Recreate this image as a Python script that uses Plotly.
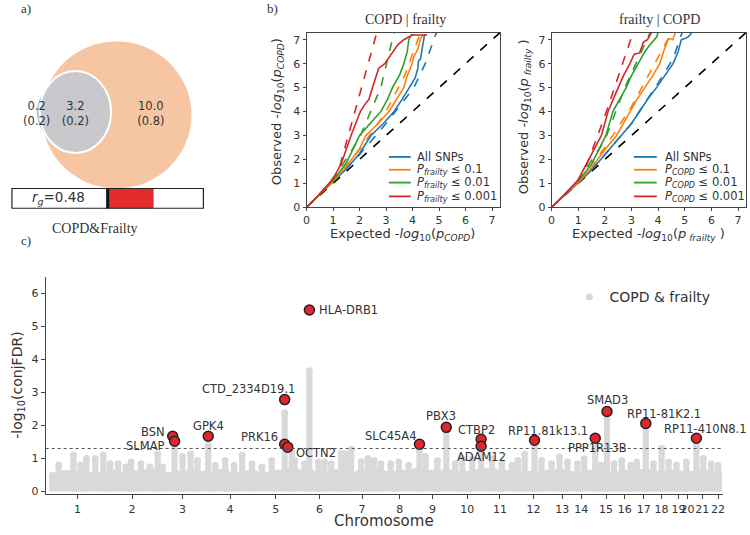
import plotly.graph_objects as go

W, H = 750, 535
FONT = "DejaVu Sans"
SERIF = "Liberation Serif"
TXT = "#333333"

# ---------------- Panel a data ----------------
venn_values = ["0.2", "3.2", "10.0"]
venn_props = ["(0.2)", "(0.2)", "(0.8)"]
rg_value = 0.48

# ---------------- Panel b data (QQ curves) ----------------
# COPD | frailty
L_all_x = [0, 0.5, 1.0, 1.5, 2.0, 2.43, 2.9, 3.3, 3.6, 3.86, 4.1, 4.2, 4.22, 4.3, 4.35, 4.4, 4.45, 4.5]
L_all_y = [0, 0.52, 1.05, 1.6, 2.25, 3.0, 3.5, 4.0, 4.5, 5.0, 5.4, 5.8, 6.1, 6.2, 6.6, 7.0, 7.2, 7.2]
L_o1_x = [0, 0.5, 1.0, 1.5, 2.0, 2.24, 2.7, 3.11, 3.4, 3.67, 3.8, 3.98, 4.05, 4.2, 4.3, 4.4]
L_o1_y = [0, 0.53, 1.08, 1.7, 2.45, 3.0, 3.5, 4.0, 4.5, 5.0, 5.5, 6.0, 6.3, 6.6, 7.05, 7.2]
L_o2_x = [0, 0.5, 1.0, 1.5, 2.0, 2.4, 2.8, 3.05, 3.24, 3.5, 3.67, 3.8, 3.86, 3.95, 4.05]
L_o2_y = [0, 0.55, 1.12, 1.85, 3.0, 3.5, 4.0, 4.5, 5.0, 5.5, 6.0, 6.5, 7.0, 7.2, 7.2]
L_o3_x = [0, 0.5, 1.0, 1.3, 1.68, 1.85, 2.03, 2.2, 2.35, 2.49, 2.6, 2.72, 2.95, 3.2, 3.45, 3.67, 3.98, 4.2, 4.55]
L_o3_y = [0, 0.55, 1.2, 1.8, 3.0, 3.5, 4.0, 4.3, 4.5, 5.0, 5.4, 5.8, 6.0, 6.4, 6.8, 7.0, 7.2, 7.2, 7.2]
L_fit_all_x = [0, 1, 2, 3, 4.05, 4.48, 4.9]
L_fit_all_y = [0, 1.05, 2.2, 3.5, 5.0, 6.0, 7.3]
L_fit_o1_x = [0, 1, 2, 3.0, 3.7, 4.3]
L_fit_o1_y = [0, 1.08, 2.4, 4.0, 5.5, 7.3]
L_fit_o2_x = [0, 1, 2, 2.8, 3.3]
L_fit_o2_y = [0, 1.15, 2.9, 5.0, 7.3]
L_fit_o3_x = [0, 0.6, 1.2, 1.83, 2.65]
L_fit_o3_y = [0, 0.65, 1.5, 4.0, 7.3]

# frailty | COPD
R_all_x = [0, 0.5, 1.0, 1.5, 2.0, 2.6, 3.0, 3.3, 3.6, 3.94, 4.25, 4.56, 4.75, 4.87, 5.0, 5.1, 5.2, 5.25, 5.3]
R_all_y = [0, 0.5, 1.02, 1.55, 2.2, 3.0, 3.5, 4.0, 4.5, 5.0, 5.5, 6.0, 6.5, 7.0, 7.05, 7.1, 7.2, 7.3, 7.3]
R_o1_x = [0, 0.5, 1.0, 1.5, 2.0, 2.44, 2.7, 2.94, 3.2, 3.5, 3.8, 4.06, 4.2, 4.37, 4.45, 4.55, 4.6, 4.65]
R_o1_y = [0, 0.52, 1.05, 1.65, 2.4, 3.0, 3.5, 4.0, 4.5, 5.0, 5.5, 6.0, 6.5, 7.0, 7.05, 7.0, 7.2, 7.3]
R_o2_x = [0, 0.5, 1.0, 1.5, 2.04, 2.3, 2.55, 2.8, 3.0, 3.25, 3.5, 3.7, 3.94, 4.0]
R_o2_y = [0, 0.55, 1.1, 1.8, 3.0, 4.0, 4.5, 5.0, 5.5, 6.0, 6.5, 6.8, 7.1, 7.3]
R_o3_x = [0, 0.5, 1.0, 1.3, 1.87, 2.12, 2.3, 2.5, 2.7, 2.94, 3.1, 3.3, 3.45, 3.6, 3.75]
R_o3_y = [0, 0.55, 1.15, 1.8, 3.0, 4.0, 4.5, 5.0, 5.5, 6.0, 6.4, 6.45, 6.9, 7.0, 7.3]
R_fit_all_x = [0, 1, 2, 3, 4, 4.56, 4.9]
R_fit_all_y = [0, 1.02, 2.2, 3.5, 5.2, 6.2, 7.3]
R_fit_o1_x = [0, 1, 2, 3, 4.5]
R_fit_o1_y = [0, 1.05, 2.5, 4.2, 7.3]
R_fit_o2_x = [0, 1, 2, 2.75, 3.7]
R_fit_o2_y = [0, 1.1, 2.8, 5.0, 7.3]
R_fit_o3_x = [0, 0.6, 1.2, 2.06, 3.06]
R_fit_o3_y = [0, 0.6, 1.4, 4.0, 7.3]

legend_left = ["All SNPs",
               "<i>P</i><sub><i>frailty</i></sub> ≤ 0.1",
               "<i>P</i><sub><i>frailty</i></sub> ≤ 0.01",
               "<i>P</i><sub><i>frailty</i></sub> ≤ 0.001"]
legend_right = ["All SNPs",
                "<i>P</i><sub><i>COPD</i></sub> ≤ 0.1",
                "<i>P</i><sub><i>COPD</i></sub> ≤ 0.01",
                "<i>P</i><sub><i>COPD</i></sub> ≤ 0.001"]
qq_colors = ["#1f77b4", "#ff7f0e", "#2ca02c", "#d62728"]

# ---------------- Panel c data (Manhattan) ----------------
chrom_labels = [str(i) for i in range(1, 23)]
chrom_centers = [135, 367, 582, 784, 978, 1164, 1345, 1505, 1644, 1792, 1931,
                 2074, 2196, 2277, 2382, 2462, 2542, 2618, 2690, 2728, 2791, 2858]
# dense background band (genome position, upper edge of the solid cloud)
band_x = [15, 60, 120, 180, 240, 300, 360, 420, 480, 540, 600, 660, 720, 780, 840, 900,
          960, 1020, 1080, 1140, 1200, 1260, 1320, 1380, 1440, 1500, 1560, 1620, 1680,
          1740, 1800, 1860, 1920, 1980, 2040, 2100, 2160, 2220, 2280, 2340, 2400, 2460,
          2520, 2580, 2640, 2700, 2760, 2820, 2875]
band_h = [0.58, 0.64, 0.66, 0.6, 0.66, 0.6, 0.64, 0.68, 0.6, 0.62,
          0.66, 0.62, 0.68, 0.6, 0.64, 0.6, 0.66, 0.7, 0.66, 0.62,
          0.68, 0.6, 0.64, 0.68, 0.62, 0.66, 0.7, 0.66, 0.66, 0.62,
          0.68, 0.7, 0.66, 0.62, 0.62, 0.66, 0.68, 0.62, 0.66, 0.68,
          0.62, 0.66, 0.68, 0.62, 0.66, 0.62, 0.66, 0.6, 0.6]
# columns of SNPs rising above the cloud (genome position, top -log10 conjFDR)
spike_x = [55, 118, 148, 173, 211, 245, 274, 308, 341, 363, 405, 443, 476, 497, 548, 582,
           616, 645, 691, 721, 763, 801, 835, 877, 919, 961, 1016, 1046, 1058, 1100, 1121,
           1159, 1185, 1214, 1256, 1277, 1299, 1341, 1370, 1396, 1425, 1467, 1501, 1543,
           1589, 1615, 1665, 1703, 1741, 1771, 1813, 1851, 1897, 1939, 1982, 2007, 2036,
           2078, 2108, 2150, 2184, 2218, 2260, 2289, 2336, 2361, 2386, 2416, 2449, 2487,
           2513, 2551, 2584, 2618, 2648, 2681, 2723, 2766, 2795, 2829, 2858]
spike_h = [0.8, 1.1, 0.8, 1.0, 1.0, 1.1, 0.84, 0.84, 0.74, 0.89, 0.84, 0.74, 1.13, 0.74, 1.5, 1.06,
           1.13, 0.94, 1.38, 0.79, 0.94, 0.79, 1.1, 0.84, 0.74, 0.94, 2.38, 1.25, 0.94, 0.84, 3.65,
           0.89, 0.89, 0.84, 1.16, 1.13, 1.28, 0.89, 1.0, 0.94, 0.84, 0.84, 0.89, 0.79,
           1.25, 1.06, 0.94, 1.85, 0.84, 0.99, 0.99, 1.3, 0.99, 0.84, 0.79, 0.94, 1.13,
           1.38, 0.94, 0.84, 1.04, 0.89, 0.84, 0.99, 1.5, 0.79, 2.2, 0.84, 0.94, 0.79,
           0.89, 1.95, 0.84, 1.3, 0.89, 0.79, 0.89, 1.4, 1.0, 0.84, 0.79]
hit_genes = ["HLA-DRB1", "CTD_2334D19.1", "BSN", "SLMAP", "GPK4", "PRK16", "OCTN2",
             "SLC45A4", "PBX3", "CTBP2", "ADAM12", "RP11.81k13.1", "PPP1R13B", "SMAD3",
             "RP11-81K2.1", "RP11-410N8.1"]
hit_x = [1121, 1016, 540, 548, 691, 1016, 1029, 1589, 1703, 1851, 1851, 2078, 2336, 2386, 2551, 2766]
hit_y = [5.49, 2.78, 1.67, 1.52, 1.67, 1.43, 1.34, 1.43, 1.94, 1.58, 1.37, 1.55, 1.61, 2.42, 2.06, 1.61]
fdr_threshold = 1.3

# label placement (style): xanchor, xshift, yshift
label_style = {
    "HLA-DRB1": ("left", 8, 0), "CTD_2334D19.1": ("center", -36, 11),
    "BSN": ("right", -6, 4), "SLMAP": ("right", -9, -5), "GPK4": ("center", 0, 10),
    "PRK16": ("right", -5, 7), "OCTN2": ("left", 6, -6), "SLC45A4": ("right", 0, 8),
    "PBX3": ("center", -5, 11), "CTBP2": ("center", -5, 9), "ADAM12": ("center", 0, -11),
    "RP11.81k13.1": ("center", 13, 9), "PPP1R13B": ("center", 2, -10),
    "SMAD3": ("center", 1, 11), "RP11-81K2.1": ("center", 18, 9),
    "RP11-410N8.1": ("center", 9, 9),
}

GRAY = "#d9d9d9"


def PX(x):
    return x / W


def PY(y):
    return 1 - y / H


fig = go.Figure()


def add_qq(xa, ya, curves, fits):
    for (fx, fy), c in zip(fits, qq_colors):
        fig.add_trace(go.Scatter(x=fx, y=fy, mode="lines", xaxis=xa, yaxis=ya,
                                 line=dict(color=c, width=1.6, dash="dash"),
                                 showlegend=False, hoverinfo="skip"))
    fig.add_trace(go.Scatter(x=[0, 7.3], y=[0, 7.3], mode="lines", xaxis=xa, yaxis=ya,
                             line=dict(color="black", width=1.6, dash="dash"),
                             showlegend=False, hoverinfo="skip"))
    for (cx, cy), c in zip(curves, qq_colors):
        fig.add_trace(go.Scatter(x=cx, y=cy, mode="lines", xaxis=xa, yaxis=ya,
                                 line=dict(color=c, width=1.6),
                                 showlegend=False, hoverinfo="skip"))


add_qq("x", "y",
       [(L_all_x, L_all_y), (L_o1_x, L_o1_y), (L_o2_x, L_o2_y), (L_o3_x, L_o3_y)],
       [(L_fit_all_x, L_fit_all_y), (L_fit_o1_x, L_fit_o1_y), (L_fit_o2_x, L_fit_o2_y),
        (L_fit_o3_x, L_fit_o3_y)])
add_qq("x2", "y2",
       [(R_all_x, R_all_y), (R_o1_x, R_o1_y), (R_o2_x, R_o2_y), (R_o3_x, R_o3_y)],
       [(R_fit_all_x, R_fit_all_y), (R_fit_o1_x, R_fit_o1_y), (R_fit_o2_x, R_fit_o2_y),
        (R_fit_o3_x, R_fit_o3_y)])

# ---------- Panel c traces ----------
fig.add_trace(go.Scatter(x=band_x, y=band_h, mode="lines", xaxis="x3", yaxis="y3",
                         line=dict(width=0, shape="hv"), fill="tozeroy", fillcolor=GRAY,
                         showlegend=False, hoverinfo="skip"))
fig.add_trace(go.Bar(x=spike_x, y=spike_h, width=26, xaxis="x3", yaxis="y3",
                     marker=dict(color=GRAY, line=dict(width=0)), showlegend=False,
                     hoverinfo="skip"))
fig.add_trace(go.Scatter(x=spike_x, y=spike_h, mode="markers", xaxis="x3", yaxis="y3",
                         marker=dict(size=7, color=GRAY), name="COPD & frailty",
                         showlegend=True, legend="legend3"))
fig.add_trace(go.Scatter(x=hit_x, y=hit_y, mode="markers", xaxis="x3", yaxis="y3",
                         marker=dict(size=10, color="#e3262b", line=dict(width=1.5, color="#222")),
                         showlegend=False, text=hit_genes))

# ---------- Panel a trace (texts) ----------
fig.add_trace(go.Scatter(x=[33, 72, 148], y=[116.5, 116.5, 116.5], mode="text",
                         xaxis="x4", yaxis="y4",
                         text=[f"{v}<br>{p}" for v, p in zip(venn_values, venn_props)],
                         textfont=dict(family=FONT, size=11.5, color=TXT),
                         showlegend=False, hoverinfo="skip"))

shapes = []
shapes.append(dict(type="circle", xref="x4", yref="y4", x0=38, x1=189, y0=42, y1=191,
                   fillcolor="#f6c6a2", line=dict(width=0), layer="below"))
shapes.append(dict(type="circle", xref="x4", yref="y4", x0=33, x1=102, y0=80, y1=148,
                   fillcolor="#a9c6e2", line=dict(width=0), layer="below"))
shapes.append(dict(type="circle", xref="x4", yref="y4", x0=36, x1=108, y0=72, y1=155,
                   fillcolor="#c9c9cd", line=dict(width=2, color="white"), layer="below"))
bx0, bx1, by0, by1 = 8, 201, 191, 211
mid = (bx0 + bx1) / 2
shapes.append(dict(type="rect", xref="x4", yref="y4", x0=mid, x1=mid + rg_value * (bx1 - mid),
                   y0=by0, y1=by1, fillcolor="#e32d2d", line=dict(width=0)))
shapes.append(dict(type="rect", xref="x4", yref="y4", x0=bx0, x1=bx1, y0=by0, y1=by1,
                   line=dict(width=1.2, color="#222")))
shapes.append(dict(type="line", xref="x4", yref="y4", x0=mid, x1=mid, y0=by0, y1=by1,
                   line=dict(width=3, color="#111")))
shapes.append(dict(type="line", xref="x3", yref="y3", x0=0, x1=2880, y0=fdr_threshold,
                   y1=fdr_threshold, line=dict(width=1, color="#555", dash="dot")))

annotations = []


def ann(text, x, y, size=12, family=FONT, xanchor="center", yanchor="middle", angle=0, color=TXT):
    annotations.append(dict(text=text, x=PX(x), y=PY(y), xref="paper", yref="paper",
                            showarrow=False, xanchor=xanchor, yanchor=yanchor,
                            textangle=angle, font=dict(family=family, size=size, color=color)))


rows = [159, 172, 185, 199]
for lx0, lx1, tx, labels in [(388, 410, 414, legend_left), (635, 658, 664, legend_right)]:
    for ry, lab, c in zip(rows, labels, qq_colors):
        shapes.append(dict(type="line", xref="paper", yref="paper", x0=PX(lx0), x1=PX(lx1),
                           y0=PY(ry), y1=PY(ry), line=dict(color=c, width=1.8)))
        ann(lab, tx, ry, size=11.5, xanchor="left")

for g, x, y in zip(hit_genes, hit_x, hit_y):
    xa, xs, ys = label_style[g]
    annotations.append(dict(text=g, x=x, y=y, xref="x3", yref="y3", showarrow=False,
                            xanchor=xa, yanchor="middle", xshift=xs, yshift=ys,
                            font=dict(family=FONT, size=11.5, color=TXT)))

ann("a)", 15, 9, size=13, family=SERIF, xanchor="left")
ann("b)", 263, 9, size=13, family=SERIF, xanchor="left")
ann("c)", 15, 244, size=13, family=SERIF, xanchor="left")
ann("COPD&Frailty", 92, 232, size=14, family=SERIF)
ann("<i>r</i><sub><i>g</i></sub>=0.48", 55, 201, size=13.5)
ann("COPD | frailty", 405, 20, size=14, family=SERIF)
ann("frailty | COPD", 661, 20, size=14, family=SERIF)
ann("Expected -<i>log</i><sub>10</sub>(<i>p</i><sub><i>COPD</i></sub>)", 402, 238, size=13)
ann("Expected -<i>log</i><sub>10</sub>(<i>p</i><sub><i> frailty</i></sub> )", 650, 238, size=13)
ann("Observed -<i>log</i><sub>10</sub>(<i>p</i><sub><i>COPD</i></sub>)", 276, 113, size=13, angle=-90)
ann("Observed -<i>log</i><sub>10</sub>(<i>p</i><sub><i> frailty</i></sub> )", 525, 118, size=13, angle=-90)
ann("Chromosome", 383, 528, size=15)
ann("-log<sub>10</sub>(conjFDR)", 14, 390, size=14, angle=-90)

qq_axis = dict(range=[0, 7.3], tickvals=list(range(8)), showline=True, mirror=True,
               linecolor="#444", linewidth=1, ticks="outside", ticklen=3, tickcolor="#444",
               tickfont=dict(family=FONT, size=11, color=TXT), showgrid=False, zeroline=False)

fig.update_layout(
    width=W, height=H, margin=dict(l=0, r=0, t=0, b=0),
    paper_bgcolor="white", plot_bgcolor="white",
    font=dict(family=FONT, color=TXT),
    barmode="overlay",
    showlegend=True,
    xaxis=dict(qq_axis, domain=[PX(305), PX(500)], anchor="y"),
    yaxis=dict(qq_axis, domain=[PY(210), PY(33)], anchor="x"),
    xaxis2=dict(qq_axis, domain=[PX(552), PX(748)], anchor="y2"),
    yaxis2=dict(qq_axis, domain=[PY(210), PY(33)], anchor="x2"),
    xaxis3=dict(domain=[PX(42), PX(725)], anchor="y3", range=[0, 2880],
                tickvals=chrom_centers, ticktext=chrom_labels, tickangle=0,
                showline=True, linecolor="#444", linewidth=1, ticks="outside", ticklen=4,
                tickcolor="#444", tickfont=dict(family=FONT, size=11, color=TXT),
                showgrid=False, zeroline=False),
    yaxis3=dict(domain=[PY(501), PY(281)], anchor="x3", range=[-0.09, 6.48],
                tickvals=list(range(7)), showline=True, linecolor="#444", linewidth=1,
                ticks="outside", ticklen=4, tickcolor="#444",
                tickfont=dict(family=FONT, size=11, color=TXT), showgrid=False, zeroline=False),
    xaxis4=dict(domain=[0, PX(240)], anchor="y4", range=[0, 240], visible=False),
    yaxis4=dict(domain=[PY(250), 1], anchor="x4", range=[250, 0], visible=False),
    legend3=dict(x=PX(570), y=PY(285), xanchor="left", yanchor="top",
                 font=dict(family=FONT, size=14, color=TXT), bgcolor="rgba(0,0,0,0)"),
    shapes=shapes, annotations=annotations,
)

fig.write_html("out.html")
